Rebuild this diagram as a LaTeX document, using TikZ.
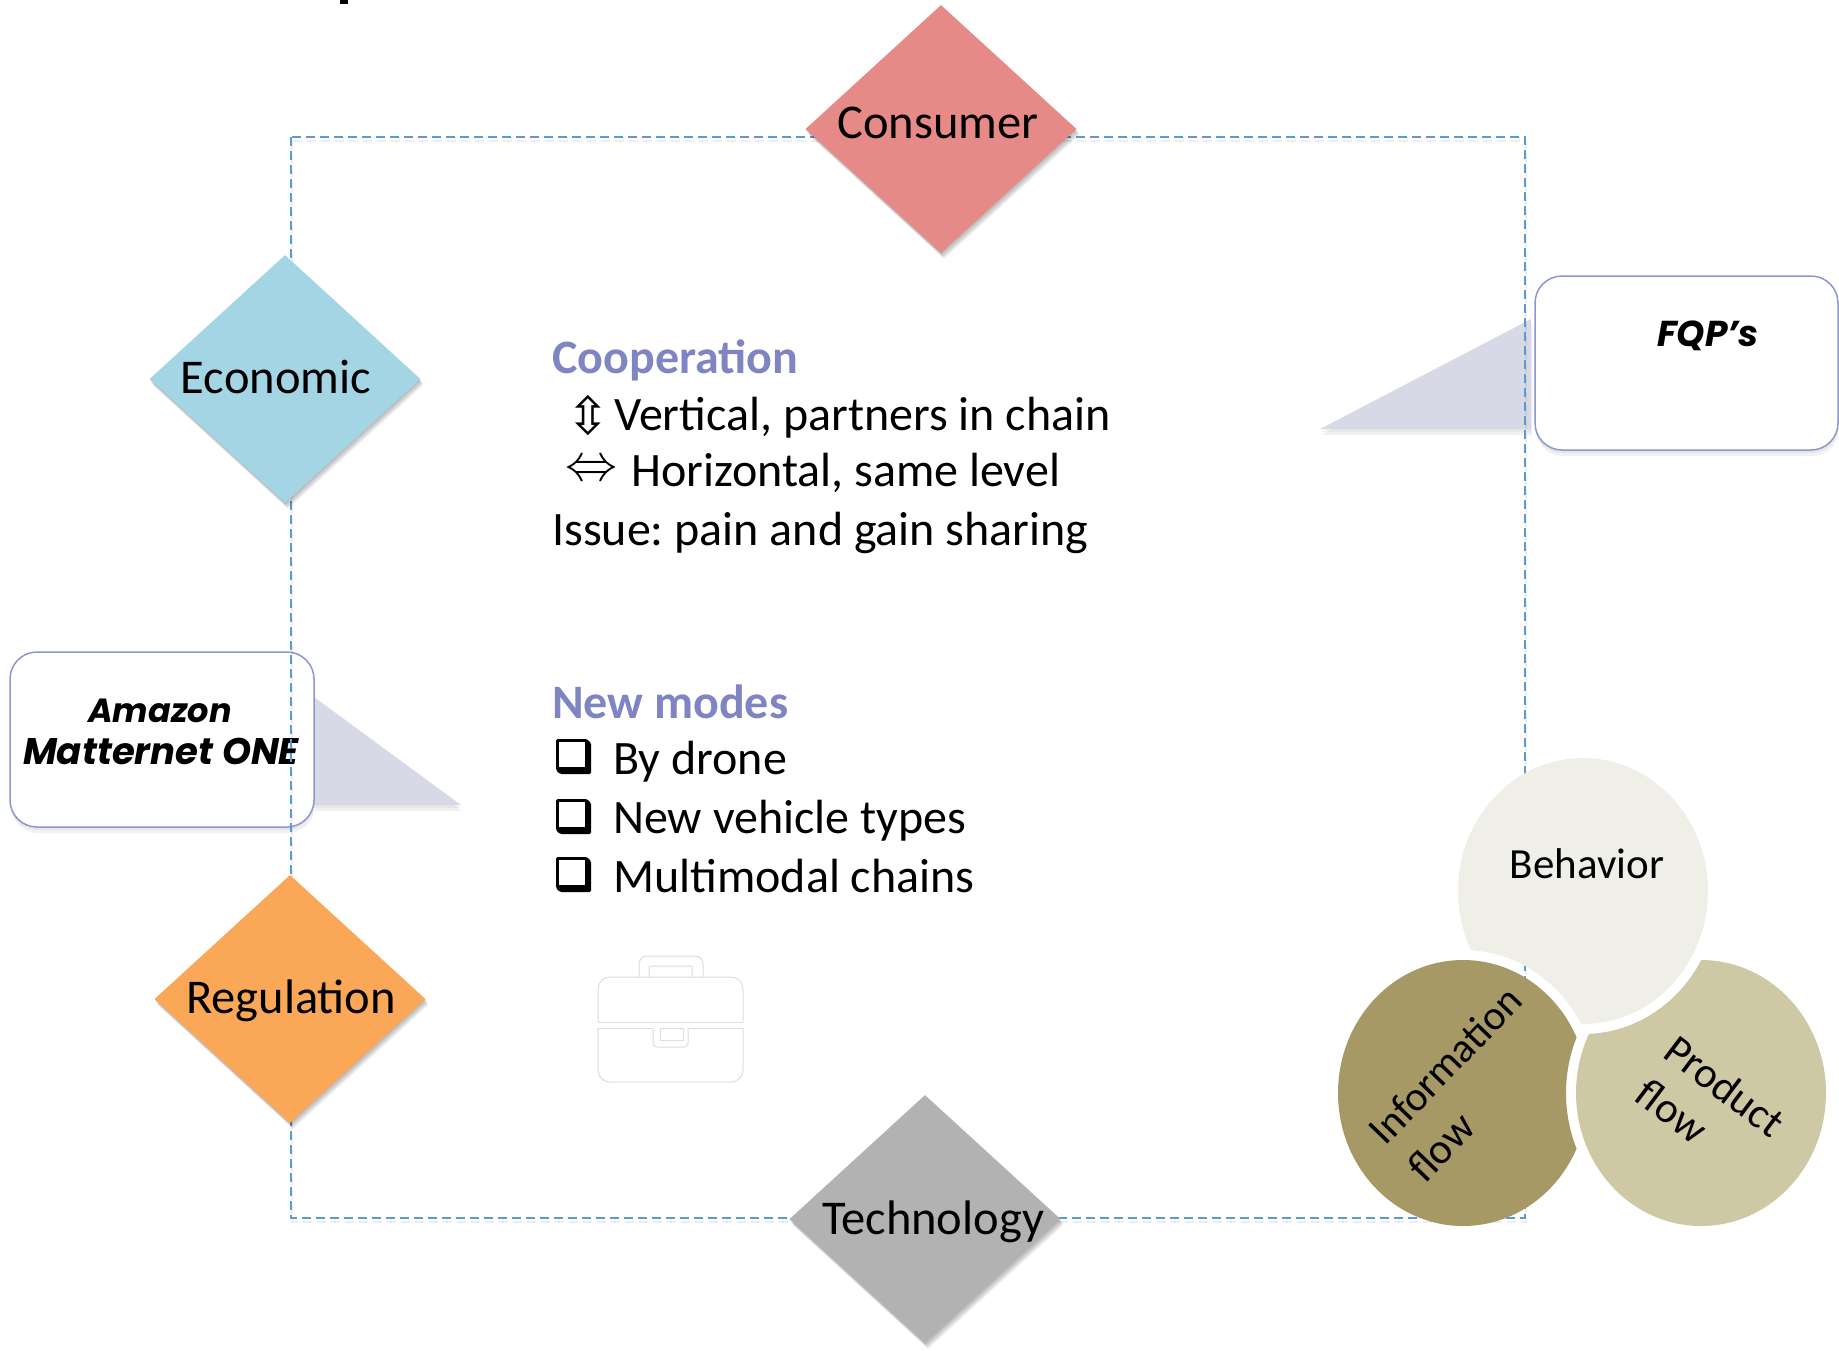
\documentclass[tikz,border=0pt]{standalone}
\usepackage{fontspec}
\setmainfont{Carlito}
\newfontfamily\avn{Poppins}
\newfontfamily\sym{DejaVu Sans}
\usetikzlibrary{shapes.geometric,shadows}
\definecolor{dashblue}{HTML}{5B9BD5}
\definecolor{head}{HTML}{7F85C2}
\definecolor{boxline}{HTML}{8E97CF}
\definecolor{tail}{HTML}{D7D9E6}
\definecolor{cons}{HTML}{E68A87}
\definecolor{econ}{HTML}{A3D5E4}
\definecolor{regu}{HTML}{FAA757}
\definecolor{tech}{HTML}{B2B2B2}
\definecolor{behc}{HTML}{EFEFE7}
\definecolor{infc}{HTML}{A69966}
\definecolor{proc}{HTML}{CFC8A5}
\definecolor{icon}{HTML}{DDDDDD}
\tikzset{
  softshadow/.style={
    general shadow={shadow xshift=.5pt,shadow yshift=-1.5pt,opacity=.08,fill=black},
    general shadow={shadow xshift=1.5pt,shadow yshift=-3pt,opacity=.08,fill=black},
    general shadow={shadow xshift=2.5pt,shadow yshift=-4.5pt,opacity=.08,fill=black},
    general shadow={shadow xshift=3pt,shadow yshift=-6pt,opacity=.06,fill=black}},
  lightshadow/.style={
    general shadow={shadow xshift=0pt,shadow yshift=-3pt,opacity=.05,fill=black},
    general shadow={shadow xshift=1pt,shadow yshift=-6pt,opacity=.05,fill=black}},
  dia/.style={shape=diamond,minimum width=271pt,minimum height=248pt,inner sep=0pt,softshadow},
  lab/.style={anchor=base,font=\fontsize{48.5}{48.5}\selectfont,text=black,inner sep=0pt},
  txt/.style={anchor=base west,font=\fontsize{48}{48}\selectfont\frenchspacing,text=black,inner sep=0pt},
  hd/.style={anchor=base west,font=\fontsize{48}{48}\selectfont\bfseries,text=head,inner sep=0pt},
  symb/.style={anchor=center,text=black,inner sep=0pt},
  callout/.style={draw=boxline,line width=1.5pt,fill=white,rounded corners=27pt,inner sep=0pt,lightshadow},
  calltxt/.style={anchor=base,font=\fontsize{36}{36}\selectfont\avn\bfseries\itshape,text=black,inner sep=0pt},
  circtxt/.style={font=\fontsize{43}{43}\selectfont,text=black,inner sep=0pt},
  iconline/.style={draw=icon,line width=1pt,fill=white},
  frame/.style={draw=dashblue,line width=1.5pt,dash pattern=on 9pt off 5pt}
}
\begin{document}
\begin{tikzpicture}[x=1pt,y=-1pt]
\useasboundingbox (0,0) rectangle (1839,1350);
% cut-off mark at the top
\fill[black] (340,0) rectangle (348,4);
% callouts: tails and boxes
\fill[tail,lightshadow] (314,697) -- (461,805) -- (314,805) -- cycle;
\node[callout,minimum width=304pt,minimum height=175pt] (amazonbox) at (162,739.5) {};
\node[calltxt,font=\fontsize{33.5}{33.5}\selectfont\avn\bfseries\itshape] (amazon) at (160,722) {Amazon};
\node[calltxt,font=\fontsize{37}{37}\selectfont\avn\bfseries\itshape] (matternet) at (161,764) {Matternet ONE};
\fill[tail,lightshadow] (1531,319) -- (1320,429) -- (1531,429) -- cycle;
\node[callout,minimum width=303pt,minimum height=174pt] (fqpbox) at (1686.5,363) {};
\node[calltxt] (fqp) at (1708,346) {FQP’s};
% dashed frame
\coordinate (tl) at (291,137);
\coordinate (br) at (1525,1218);
\draw[draw=black,opacity=.07,line width=2pt,dash pattern=on 9pt off 5pt] ([shift={(1pt,-4pt)}]tl) rectangle ([shift={(1pt,-4pt)}]br);
\draw[frame] (tl) rectangle (br);
% diamonds
\node[dia,fill=cons] (consumer) at (941,129) {};
\node[dia,fill=econ] (economic) at (285,379) {};
\node[dia,fill=regu] (regulation) at (290,999) {};
\node[dia,fill=tech] (technology) at (925,1219) {};
\node[lab] (lconsumer) at (938,138) {Consumer};
\node[lab] (leconomic) at (276,393.5) {Economic};
\node[lab] (lregulation) at (291,1013.5) {Regulation};
\node[lab] (ltechnology) at (933,1234) {Technology};
% text block 1
\node[hd] (cooperation) at (552,373) {Cooperation};
\node[symb,font=\fontsize{52}{52}\sym] (updown) at (588,416) {⇳};
\node[txt] (vertical) at (614,430.5) {Vertical, partners in chain};
\node[symb,scale=5.2] (leftright) at (591,471) {$\Leftrightarrow$};
\node[txt] (horizontal) at (631,486.5) {Horizontal, same level};
\node[txt] (issue) at (552,545) {Issue: pain and gain sharing};
% text block 2
\node[hd] (newmodes) at (552,718) {New modes};
\foreach \ty in {739,799,857}{
  \fill[black,rounded corners=1.5pt] (556,\ty) -- (587,\ty) -- (591,\ty+4) -- (591,\ty+35) -- (560,\ty+35) -- (556,\ty+31) -- cycle;
  \fill[white] (558.5,\ty+2.5) rectangle (585,\ty+27.5);
}
\node[txt] (drone) at (613,774) {By drone};
\node[txt] (vehicle) at (613,833) {New vehicle types};
\node[txt] (chains) at (613,892.5) {Multimodal chains};
% briefcase icon
\draw[iconline,rounded corners=8pt] (639,977) -- (639,956) -- (703,956) -- (703,977);
\draw[iconline,rounded corners=1pt] (649,977) -- (649,966) -- (692,966) -- (692,977);
\draw[iconline,rounded corners=12pt] (598,1022) -- (598,977) -- (743,977) -- (743,1022);
\draw[iconline] (598,1022) -- (743,1022);
\draw[iconline,rounded corners=12pt] (598,1028) -- (598,1082) -- (743,1082) -- (743,1028);
\draw[iconline] (598,1028) -- (653,1028);
\draw[iconline] (688,1028) -- (743,1028);
\draw[iconline,rounded corners=4pt] (653,1028) -- (653,1047) -- (688,1047) -- (688,1028);
\draw[iconline] (660,1028) rectangle (683,1040);
% three circles, each one cut by the next
\begin{scope}[even odd rule]
  \clip (-100,-100) rectangle (2000,1500) (1463,1093) ellipse (135 and 143);
  \fill[behc] (1583,891) ellipse (125 and 133);
\end{scope}
\begin{scope}[even odd rule]
  \clip (-100,-100) rectangle (2000,1500) (1701,1093) ellipse (135 and 143);
  \fill[infc] (1463,1093) ellipse (125 and 133);
\end{scope}
\begin{scope}[even odd rule]
  \clip (-100,-100) rectangle (2000,1500) (1583,891) ellipse (135 and 143);
  \fill[proc] (1701,1093) ellipse (125 and 133);
\end{scope}
\node[circtxt,anchor=base] (behavior) at (1587,878) {Behavior};
\node[circtxt,rotate=46,font=\fontsize{41.5}{41.5}\selectfont] (information) at (1445,1065) {Information};
\node[circtxt,rotate=46] (infoflow) at (1441,1147) {flow};
\node[circtxt,rotate=-37] (product) at (1725,1086) {Product};
\node[circtxt,rotate=-37] (prodflow) at (1672,1111) {flow};
\end{tikzpicture}
\end{document}
